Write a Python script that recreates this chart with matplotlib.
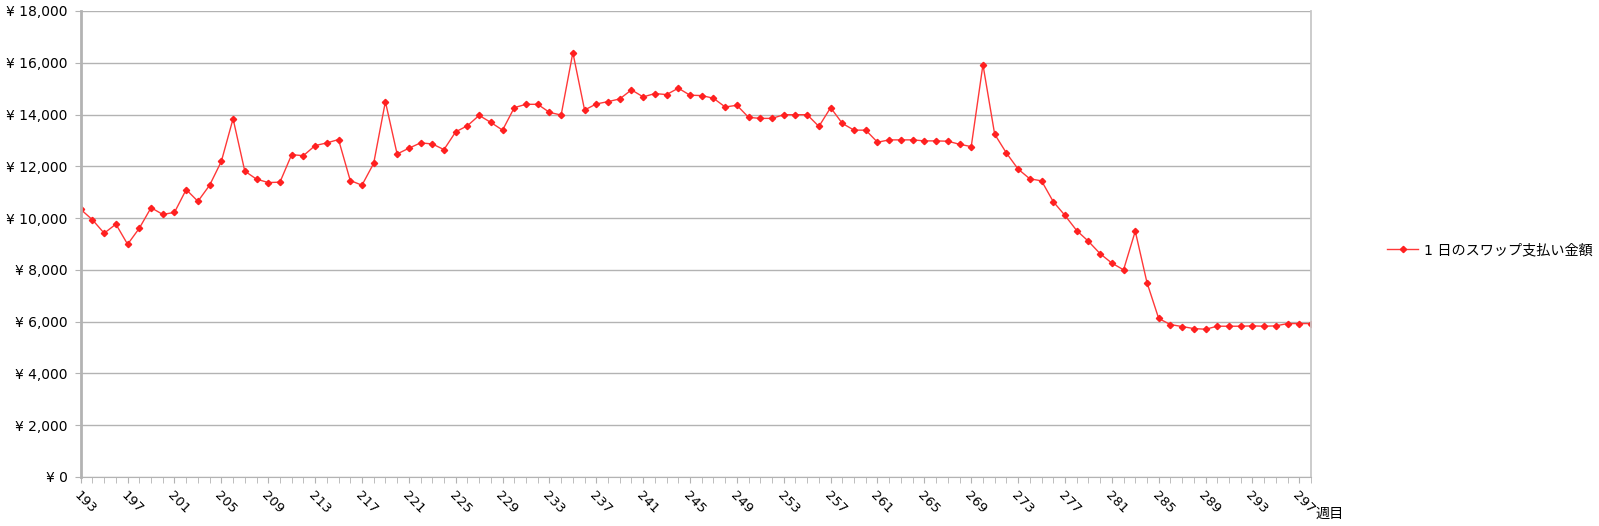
import numpy as np
import matplotlib.pyplot as plt
from matplotlib.ticker import FuncFormatter, MultipleLocator

plt.rcParams['font.family'] = ['DejaVu Sans', 'Noto Sans CJK JP']

# weeks 193..298
weeks = list(range(193, 299))

# daily swap payment (yen)
swap = [
    10335, 9933, 9415, 9765, 8987, 9609, 10400, 10141, 10219, 11101,
    10647, 11269, 12190, 13837, 11814, 11503, 11373, 11386, 12449, 12410,
    12799, 12903, 13033, 11451, 11269, 12112, 14498, 12475, 12696, 12903,
    12864, 12644, 13331, 13565, 13966, 13694, 13396, 14265, 14394, 14394,
    14083, 13979, 16392, 14174, 14407, 14498, 14602, 14952, 14680, 14809,
    14770, 15017, 14745, 14732, 14628, 14291, 14356, 13889, 13850, 13850,
    13992, 13992, 13992, 13539, 14265, 13655, 13396, 13396, 12929, 13020,
    13020, 13020, 12981, 12981, 12968, 12851, 12760, 15925, 13240, 12514,
    11892, 11516, 11438, 10634, 10102, 9519, 9104, 8624, 8261, 8001,
    9493, 7508, 6121, 5887, 5810, 5732, 5706, 5823, 5823, 5823,
    5836, 5823, 5836, 5926, 5926, 5926,
]

series_label = '1 日のスワップ支払い金額'
x_label = '週目'

fig = plt.figure(figsize=(15.99, 5.26), dpi=100)
ax = fig.add_axes([0.0505, 0.0932, 0.7694, 0.886])

ax.plot(weeks, swap, color='#ff3838', linewidth=1.0, marker='D', markersize=3.2,
        markerfacecolor='#ff2020', markeredgecolor='#ff2020', label=series_label)

ax.set_xlim(193, 298)
ax.set_ylim(0, 18000)
ax.yaxis.set_major_locator(MultipleLocator(2000))
ax.yaxis.set_major_formatter(FuncFormatter(lambda v, p: '¥ {:,.0f}'.format(v)))
ax.grid(axis='y', color='#b3b3b3', linewidth=1.0)
ax.set_axisbelow(True)

ax.set_xticks(weeks, minor=True)
ax.set_xticks(weeks[::4])
ax.set_xticklabels([str(w) for w in weeks[::4]], rotation=-45, ha='left', va='top',
                   rotation_mode='anchor')
ax.tick_params(axis='x', which='both', length=4.3, color='#b3b3b3', labelsize=9.5, pad=4)
ax.tick_params(axis='y', length=4.3, color='#b3b3b3', labelsize=10, pad=5)

for side in ['left', 'bottom', 'right']:
    ax.spines[side].set_color('#b3b3b3')
ax.spines['left'].set_linewidth(2)
ax.spines['right'].set_linewidth(1.3)
ax.spines['right'].set_color('#c8c8c8')
ax.spines['top'].set_visible(False)

ax.text(1.004, -0.079, x_label, transform=ax.transAxes, fontsize=10.2, ha='left', va='center')

fig.legend(loc='center left', bbox_to_anchor=(1387 / 1599, 0.5247), frameon=False,
           fontsize=10.2, handlelength=2.2, handletextpad=0.4, borderpad=0,
           borderaxespad=0)

plt.savefig('out.png', dpi=100)
